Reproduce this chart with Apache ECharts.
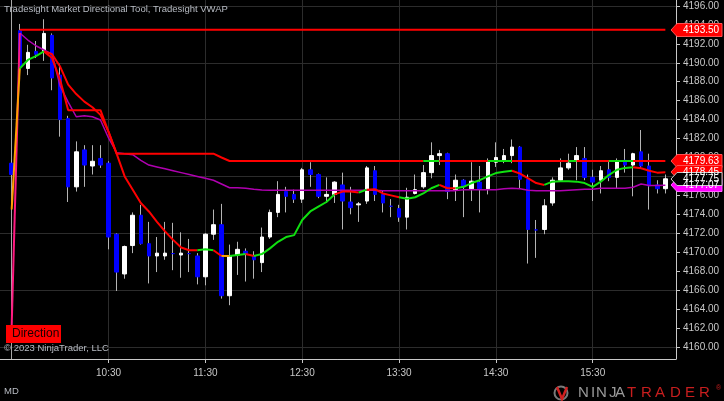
<!DOCTYPE html>
<html><head><meta charset="utf-8">
<script src="https://cdn.jsdelivr.net/npm/echarts@6/dist/echarts.min.js"></script>
<style>html,body{margin:0;padding:0;background:#000;overflow:hidden}#c{width:724px;height:401px}</style>
</head><body><div id="c"></div>
<script>
// ---------------- DATA ----------------
const times = ['9:30','9:35','9:40','9:45','9:50','9:55',
'10:00','10:05','10:10','10:15','10:20','10:25','10:30','10:35','10:40','10:45','10:50','10:55',
'11:00','11:05','11:10','11:15','11:20','11:25','11:30','11:35','11:40','11:45','11:50','11:55',
'12:00','12:05','12:10','12:15','12:20','12:25','12:30','12:35','12:40','12:45','12:50','12:55',
'13:00','13:05','13:10','13:15','13:20','13:25','13:30','13:35','13:40','13:45','13:50','13:55',
'14:00','14:05','14:10','14:15','14:20','14:25','14:30','14:35','14:40','14:45','14:50','14:55',
'15:00','15:05','15:10','15:15','15:20','15:25','15:30','15:35','15:40','15:45','15:50','15:55',
'16:00','16:05','16:10','16:15'];
const open = [4179.4,4193.4,4189.4,4191.2,4191.2,4192.9,4188.7,4184.1,4176.9,4180.8,4179.1,4179.9,
4179.4,4171.9,4167.7,4170.7,4173.9,4170.9,4169.6,4169.6,4169.85,4169.7,4169.85,4169.6,
4167.4,4171.9,4172.9,4165.4,4169.7,4170.1,4169.6,4168.9,4171.6,4174.2,4176.4,4176.1,
4175.6,4178.7,4178.2,4175.9,4176.1,4177.1,4175.3,4175.0,4175.4,4178.6,4176.1,4174.85,
4174.6,4173.7,4176.2,4176.9,4178.4,4180.2,4180.4,4176.6,4177.6,4176.7,4177.4,4176.7,
4179.5,4179.7,4180.2,4181.1,4177.7,4172.35,4172.4,4175.2,4177.6,4178.9,4179.6,4179.9,
4177.9,4177.6,4178.7,4177.9,4179.7,4179.2,4180.6,4179.1,4177.1,4176.7];
const high = [4179.8,4194.1,4191.9,4192.3,4194.6,4193.1,4189.9,4184.4,4181.7,4181.3,4181.3,4181.3,
4179.6,4172.0,4170.7,4174.2,4175.0,4173.2,4171.6,4173.2,4173.1,4172.1,4171.4,4169.9,
4172.0,4174.5,4175.1,4170.8,4171.1,4170.4,4170.1,4172.6,4174.5,4177.5,4176.9,4176.6,
4178.9,4179.5,4178.3,4177.9,4177.5,4178.4,4176.9,4175.3,4179.1,4179.1,4176.5,4175.6,
4175.0,4176.8,4178.2,4179.2,4181.6,4180.8,4180.5,4178.2,4177.7,4179.5,4179.1,4179.9,
4181.6,4180.9,4181.9,4181.2,4178.2,4173.4,4175.6,4177.9,4179.9,4180.4,4181.1,4181.1,
4178.7,4179.1,4179.7,4179.9,4180.9,4180.5,4182.9,4180.4,4177.6,4178.2];
const low = [4177.8,4189.2,4188.7,4190.5,4190.2,4187.1,4182.2,4175.3,4176.4,4176.9,4178.2,4178.9,
4170.3,4165.9,4167.2,4169.9,4170.8,4166.7,4167.9,4169.2,4168.1,4167.3,4167.9,4166.6,
4166.5,4171.3,4165.1,4164.4,4167.6,4166.9,4167.2,4167.9,4171.4,4173.7,4174.2,4175.2,
4175.2,4176.9,4175.7,4175.2,4175.2,4172.4,4174.0,4173.2,4175.1,4175.4,4174.2,4173.7,
4173.2,4172.4,4176.1,4176.7,4177.8,4179.2,4175.6,4175.4,4173.7,4175.4,4174.2,4176.1,
4179.0,4179.4,4179.4,4176.7,4168.8,4169.4,4171.9,4174.9,4177.5,4178.7,4177.6,4177.6,
4175.4,4176.2,4177.5,4176.7,4178.4,4175.9,4178.9,4174.5,4176.2,4176.2];
const close = [4178.2,4189.6,4191.1,4190.9,4193.1,4188.4,4184.0,4176.9,4180.6,4179.2,4179.6,4179.2,
4171.6,4167.9,4170.6,4173.9,4170.9,4169.6,4169.9,4169.9,4169.85,4169.9,4169.85,4167.4,
4171.9,4172.9,4165.4,4169.6,4170.3,4169.8,4169.2,4171.6,4174.2,4176.1,4175.9,4175.6,
4178.7,4178.2,4175.9,4176.1,4177.4,4175.4,4174.7,4175.1,4178.9,4176.1,4175.2,4174.85,
4173.7,4175.8,4176.6,4178.4,4180.2,4180.4,4176.4,4177.6,4176.9,4177.5,4176.7,4179.6,
4180.0,4180.2,4181.1,4177.7,4172.4,4172.35,4174.9,4177.6,4178.9,4179.4,4180.2,4177.9,
4177.4,4178.6,4177.9,4179.6,4179.2,4180.4,4179.1,4177.0,4176.7,4177.75];
// Market Directional Tool line and its state per segment (G up, R down, O flat)
const dirLine = [4174.5,4189.4,4190.3,4190.7,4191.2,4190.9,4189.6,4187.7,4186.7,4185.9,4185.3,4184.5,
4182.7,4180.4,4178.0,4176.6,4175.2,4174.3,4173.2,4172.2,4171.3,4170.5,4170.2,4170.2,
4170.3,4170.2,4169.6,4169.6,4169.7,4169.8,4169.6,4169.8,4170.4,4171.1,4171.6,4171.8,
4173.4,4174.3,4174.8,4175.3,4176.1,4176.4,4176.4,4176.3,4176.6,4176.65,4176.2,4176.0,
4175.8,4175.65,4175.8,4176.2,4176.75,4177.1,4176.75,4176.75,4176.9,4177.3,4177.6,4178.0,
4178.35,4178.5,4178.6,4178.3,4177.8,4177.3,4177.1,4177.45,4177.5,4177.5,4177.45,4177.3,
4176.9,4177.45,4178.15,4178.7,4178.9,4178.97,4178.86,4178.6,4178.4,4178.45];
const dirState = ['-','O','G','G','G','R','R','R','R','R','R','R',
'R','R','R','R','R','R','R','R','R','R','R','R',
'G','G','R','O','G','G','R','G','G','G','G','G',
'G','G','G','G','G','R','R','R','G','R','R','R',
'R','G','G','G','G','G','R','R','G','G','G','G',
'G','G','G','R','R','R','R','G','G','G','G','G',
'G','G','G','G','G','G','R','R','R','R'];
// Trailing step line and its state per segment
const stepLine = [null,null,null,null,4191.2,4190.5,4188.2,4185.0,4185.0,4185.0,4185.0,4185.0,
4182.7,4180.4,4180.4,4180.4,4180.4,4180.4,4180.4,4180.4,4180.4,4180.4,4180.4,4180.4,
4180.4,4180.4,4180.0,4179.63,4179.63,4179.63,4179.63,4179.63,4179.63,4179.63,4179.63,4179.63,
4179.63,4179.63,4179.63,4179.63,4179.63,4179.63,4179.63,4179.63,4179.63,4179.63,4179.63,4179.63,
4179.63,4179.63,4179.63,4179.63,4179.63,4179.63,4179.63,4179.63,4179.63,4179.63,4179.63,4179.63,
4179.63,4179.63,4179.63,4179.63,4179.63,4179.63,4179.63,4179.63,4179.63,4179.63,4179.63,4179.63,
4179.63,4179.63,4179.63,4179.63,4179.63,4179.63,4179.63,4179.63,4179.63,4179.63];
const stepState = ['-','-','-','-','-','R','R','R','R','R','R','R',
'R','R','R','R','R','R','R','R','R','R','R','R',
'R','R','R','R','R','R','R','R','R','R','R','R',
'R','R','R','R','R','R','R','R','R','R','R','R',
'R','R','R','R','G','G','R','R','R','R','R','R',
'G','G','G','R','R','R','R','R','R','R','G','R',
'R','R','R','G','G','G','R','R','R','R'];
const upperLevel = 4193.5;   // horizontal level drawn from the second bar on
const upperLevelStart = '9:35';
const vwap = [4162.3,4193.15,4192.4,4191.8,4191.35,4190.9,4187.55,4185.85,4184.3,4184.4,4184.3,4183.96,
4182.06,4180.5,4180.4,4180.3,4179.7,4179.2,4179.0,4178.8,4178.6,4178.4,4178.2,4178.0,
4177.8,4177.6,4177.2,4176.8,4176.8,4176.75,4176.65,4176.57,4176.55,4176.55,4176.55,4176.55,
4176.55,4176.55,4176.55,4176.55,4176.55,4176.55,4176.55,4176.55,4176.55,4176.55,4176.5,4176.5,
4176.5,4176.5,4176.5,4176.5,4176.5,4176.5,4176.5,4176.5,4176.6,4176.6,4176.6,4176.6,
4176.6,4176.7,4176.75,4176.7,4176.55,4176.5,4176.5,4176.5,4176.5,4176.55,4176.6,4176.65,
4176.65,4176.75,4176.75,4176.75,4176.75,4176.85,4177.2,4177.05,4177.05,4177.07];
const xTickLabels = ['10:30','11:30','12:30','13:30','14:30','15:30'];
const sessionStart = '9:30';
const yTickLabels = [4160,4162,4164,4166,4168,4170,4172,4174,4176,4178,4180,4182,4184,4186,4188,4190,4192,4194,4196];
const yGridLevels = [4160,4166,4172,4178,4184,4190,4196];

// ---------------- CONFIG ----------------
const FONT = '"Liberation Sans", Arial, sans-serif';
const X_MIN = 562.75, X_MAX = 981.6, Y_MIN = 4158.72, Y_MAX = 4196.63;
const toMin = t => { const p = t.split(':').map(Number); return p[0]*60 + p[1]; };
const toHHMM = v => { const h = Math.floor(v/60), m = Math.round(v - h*60); return h + ':' + (m<10?'0':'') + m; };
const xs = times.map(toMin);
const xTickVals = xTickLabels.map(toMin);
const COLORS = {G:'#10e010', R:'#ff0000', O:'#ffa000'};

const wickData = xs.map((x,i)=>[x, open[i], close[i], low[i], high[i]]);
const bodyData = xs.map((x,i)=>[x, open[i], close[i], Math.min(open[i],close[i]), Math.max(open[i],close[i])]);

function runSeries(values, states, width, z) {
  const out = [];
  let cur = null;
  for (let i = 1; i < values.length; i++) {
    const s = states[i];
    if (s === '-' || values[i-1] == null || values[i] == null) { cur = null; continue; }
    if (!cur || cur.s !== s) {
      cur = {s, data: [[xs[i-1], values[i-1]]]};
      out.push(cur);
    }
    cur.data.push([xs[i], values[i]]);
  }
  return out.map(r => ({
    type:'line', data:r.data, showSymbol:false, symbol:'none', silent:true, animation:false, z,
    lineStyle:{color:COLORS[r.s], width}
  }));
}

const chart = echarts.init(document.getElementById('c'), null, {renderer:'canvas'});

const upperStartIdx = times.indexOf(upperLevelStart);
const series = [
  { type:'line', data:[[X_MIN, Y_MIN]], showSymbol:false, symbol:'none', silent:true, lineStyle:{opacity:0}, z:0,
    markLine:{ silent:true, animation:false, symbol:['none','none'], z:1, label:{show:false},
      lineStyle:{color:'#2c2c2c', width:1, type:'solid'},
      emphasis:{disabled:true},
      data:[...yGridLevels.map(v=>({yAxis:v})), ...xTickVals.map(v=>({xAxis:v})),
            {xAxis: toMin(sessionStart), lineStyle:{color:'#a8a8a8', width:1, type:'solid'}}] } },
  { type:'candlestick', data:wickData, dimensions:['t','open','close','lowest','highest'],
    encode:{x:'t', y:['open','close','lowest','highest']}, barWidth:1, silent:true, z:2, animation:false,
    itemStyle:{color:'#b4b4b4', color0:'#b4b4b4', borderColor:'#b4b4b4', borderColor0:'#b4b4b4', borderWidth:1} },
  { type:'candlestick', data:bodyData, dimensions:['t','open','close','lowest','highest'],
    encode:{x:'t', y:['open','close','lowest','highest']}, barWidth:4, silent:true, z:3, animation:false,
    itemStyle:{color:'#ffffff', color0:'#0000ff', borderColor:'#ffffff', borderColor0:'#0000ff', borderWidth:1} },
  { type:'line', data: xs.slice(upperStartIdx).map(x=>[x, upperLevel]), showSymbol:false, symbol:'none', silent:true,
    animation:false, z:4, lineStyle:{color:'#ff0000', width:2} },
  { type:'line', data: vwap.slice(1).map((v,i)=>[xs[i+1], v]), showSymbol:false, symbol:'none', silent:true,
    animation:false, z:4, lineStyle:{color:'#b000b0', width:1.5} },
  { type:'line', data: [[xs[0], vwap[0]], [xs[1], vwap[1]]], showSymbol:false, symbol:'none', silent:true,
    animation:false, z:5, lineStyle:{color:'#ff1a80', width:2} },
  ...runSeries(stepLine, stepState, 2, 5),
  ...runSeries(dirLine, dirState, 2, 6)
];

chart.setOption({
  backgroundColor:'#000',
  animation:false,
  grid:{left:0, right:48, top:0, bottom:42, containLabel:false},
  xAxis:{ type:'value', min:X_MIN, max:X_MAX, position:'bottom',
    axisLine:{show:true, onZero:false, lineStyle:{color:'#c8c8c8', width:1}},
    axisTick:{show:true, length:4, customValues:xTickVals, lineStyle:{color:'#c8c8c8'}},
    axisLabel:{customValues:xTickVals, formatter:v=>toHHMM(v), color:'#c8c8c8', fontSize:10, fontFamily:FONT, margin:9},
    splitLine:{show:false} },
  yAxis:{ type:'value', min:Y_MIN, max:Y_MAX, position:'right',
    axisLine:{show:true, onZero:false, lineStyle:{color:'#c8c8c8', width:1}},
    axisTick:{show:true, length:4, customValues:yTickLabels, lineStyle:{color:'#c8c8c8'}},
    axisLabel:{customValues:yTickLabels, formatter:v=>Number(v).toFixed(2), color:'#c8c8c8', fontSize:10, fontFamily:FONT, margin:7},
    splitLine:{show:false} },
  series
});

// ------------- annotations (positions from the axis scale) -------------
function flag(v, fill, stroke, textColor) {
  const y = Math.round(chart.convertToPixel({yAxisIndex:0}, v));
  const h = 6.5;
  return { type:'group', z:50, children:[
    { type:'polygon', z:50, shape:{points:[[671,y],[677,y-h],[722,y-h],[722,y+h],[677,y+h]]},
      style:{fill, stroke, lineWidth:1} },
    { type:'text', z:51, x:683, y:y, style:{text:v.toFixed(2), fill:textColor, font:'10px '+FONT, verticalAlign:'middle'} }
  ]};
}
const last = a => a[a.length-1];
const logoLetters = [['N',578,'#9a9a9a'],['I',591,'#9a9a9a'],['N',596,'#9a9a9a'],['J',609,'#9a9a9a'],['A',615,'#9a9a9a'],
  ['T',627,'#c81e1e'],['R',641,'#c81e1e'],['A',655,'#c81e1e'],['D',670,'#c81e1e'],['E',685,'#c81e1e'],['R',699,'#c81e1e']];
const graphics = [
  {type:'text', x:4, y:9, z:60, style:{text:'Tradesight Market Directional Tool, Tradesight VWAP', fill:'#b8bcc4', font:'9.5px '+FONT, verticalAlign:'middle'}},
  {type:'rect', z:60, shape:{x:6, y:325, width:55, height:18}, style:{fill:'#ff0000'}},
  {type:'text', x:12, y:334, z:61, style:{text:'Direction', fill:'#1a0000', font:'12px '+FONT, verticalAlign:'middle'}},
  {type:'text', x:4, y:348, z:60, style:{text:'© 2023 NinjaTrader, LLC', fill:'#b8bcc4', font:'9.5px '+FONT, verticalAlign:'middle'}},
  {type:'text', x:4, y:391, z:60, style:{text:'MD', fill:'#b8bcc4', font:'9.5px '+FONT, verticalAlign:'middle'}},
  {type:'circle', z:60, shape:{cx:561, cy:393, r:6.5}, style:{fill:'none', stroke:'#7a7a7a', lineWidth:2}},
  {type:'polyline', z:61, shape:{points:[[557,387],[562,399],[567,387]]}, style:{fill:'none', stroke:'#d02020', lineWidth:2.5}},
  ...logoLetters.map(l=>({type:'text', x:l[1], y:393, z:60, style:{text:l[0], fill:l[2], font:'15px '+FONT, verticalAlign:'middle'}})),
  {type:'text', x:716, y:388, z:60, style:{text:'®', fill:'#c81e1e', font:'7px '+FONT, verticalAlign:'middle'}},
  flag(upperLevel, '#ff0000', '#ff5050', '#ffffff'),
  flag(last(stepLine), '#ff0000', '#ff5050', '#ffffff'),
  flag(last(dirLine), '#ff0000', '#ff5050', '#ffffff'),
  flag(last(vwap), '#ff00ff', '#ff60ff', '#ffffff'),
  flag(last(close), '#000000', '#c8c8c8', '#ffffff')
];
chart.setOption({graphic: graphics});
</script></body></html>
